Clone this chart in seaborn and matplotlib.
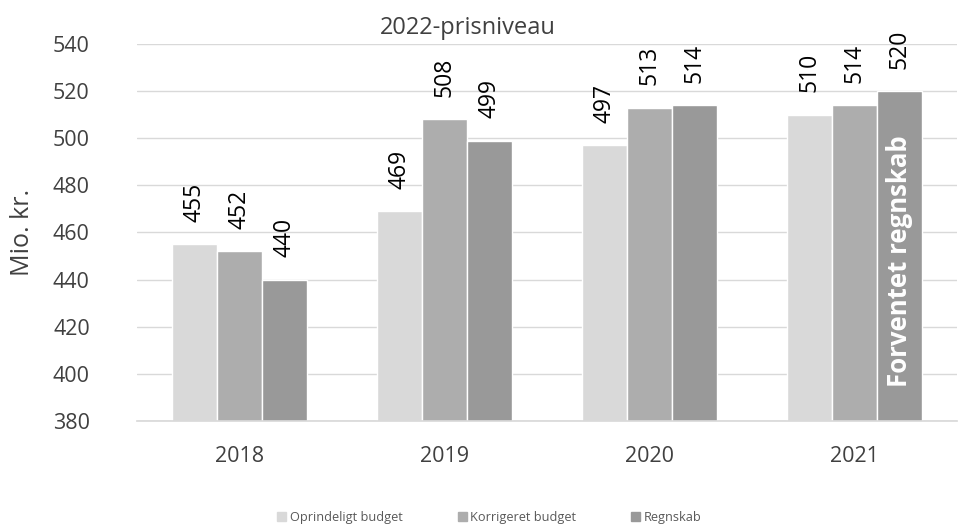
import pandas as pd
import matplotlib
matplotlib.use('Agg')
import matplotlib.pyplot as plt
import seaborn as sns

aar = ['2018', '2019', '2020', '2021']
oprindeligt = [455, 469, 497, 510]
korrigeret = [452, 508, 513, 514]
regnskab = [440, 499, 514, 520]
serier = ['Oprindeligt budget', 'Korrigeret budget', 'Regnskab']
farver = ['#d9d9d9', '#adadad', '#999999']

df = pd.DataFrame({
    'År': aar * 3,
    'Serie': [serier[0]] * 4 + [serier[1]] * 4 + [serier[2]] * 4,
    'Værdi': oprindeligt + korrigeret + regnskab,
})

sns.set_theme(style='white')
plt.rcParams['font.family'] = ['Open Sans', 'DejaVu Sans']

fig = plt.figure(figsize=(9.58, 5.29), dpi=100)
ax = fig.add_axes([0.143, 0.204, 0.856, 0.713])

sns.barplot(data=df, x='År', y='Værdi', hue='Serie', palette=farver,
            width=0.66, saturation=1, ax=ax, legend=False)

ax.set_ylim(380, 540)
ax.set_yticks(range(380, 541, 20))
ax.yaxis.grid(True, color='#d9d9d9', linewidth=1)
ax.set_axisbelow(True)
for s in ['top', 'left', 'right']:
    ax.spines[s].set_visible(False)
ax.spines['bottom'].set_color('#d9d9d9')
ax.tick_params(axis='both', labelsize=15.5, colors='#404040', length=0)
ax.tick_params(axis='y', pad=34)
ax.tick_params(axis='x', pad=18)
ax.set_xlabel('')
ax.set_ylabel('')
fig.text(0.024, 0.56, 'Mio. kr.', rotation=90, ha='center', va='center',
         fontsize=18, color='#404040')

# Værdier over søjlerne
for container in ax.containers:
    for bar in container:
        h = bar.get_height()
        ax.annotate(f'{h:.0f}', (bar.get_x() + bar.get_width() / 2, h),
                    xytext=(0, 16), textcoords='offset points',
                    rotation=90, ha='center', va='bottom', fontsize=16.5,
                    color='black', annotation_clip=False)

sidste = ax.containers[2][3]
ax.text(sidste.get_x() + sidste.get_width() / 2, 448, 'Forventet regnskab',
        rotation=90, ha='center', va='center', color='white',
        fontsize=18.5, fontweight='bold')

fig.text(0.488, 0.948, '2022-prisniveau', ha='center', va='center',
         fontsize=17, color='#404040')

handles = [plt.Rectangle((0, 0), 1, 1, color=c) for c in farver]
fig.legend(handles, serier, loc='center', bbox_to_anchor=(0.511, 0.022),
           ncol=3, frameon=False, fontsize=9.2, handlelength=0.7,
           handleheight=0.7, handletextpad=0.3, columnspacing=4.3,
           labelcolor='#595959')

fig.savefig('out.png', dpi=100)
